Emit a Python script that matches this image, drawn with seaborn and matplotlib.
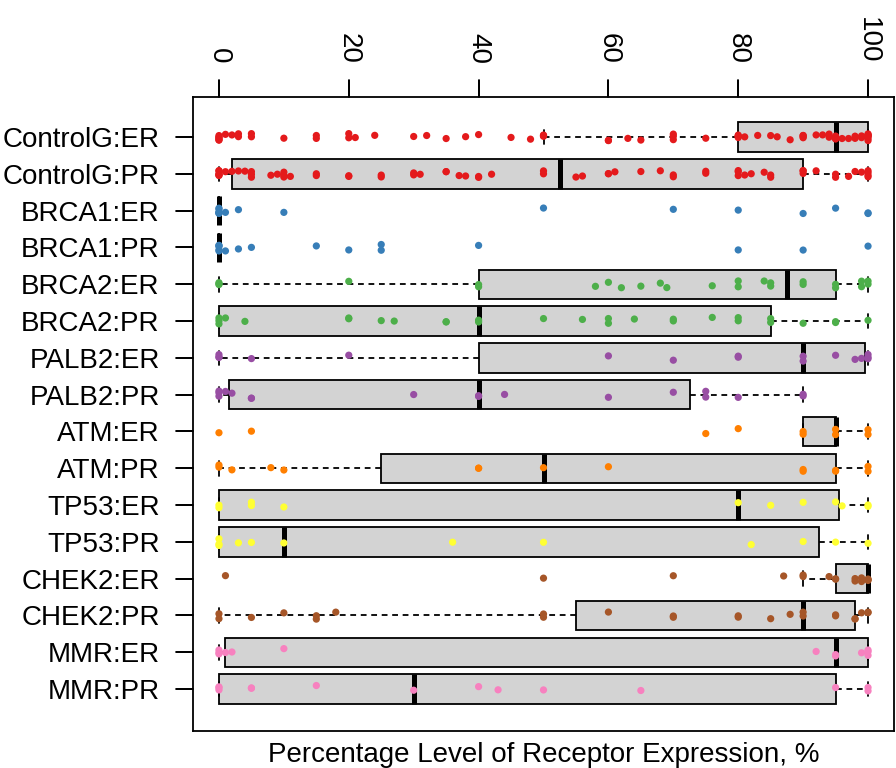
# %% Import libraries
import matplotlib
matplotlib.use('Agg')
import matplotlib.pyplot as plt
from matplotlib.lines import Line2D
import numpy as np
import pandas as pd
import seaborn as sns

# %% data
labels = ['ControlG:ER', 'ControlG:PR', 'BRCA1:ER', 'BRCA1:PR',
          'BRCA2:ER', 'BRCA2:PR', 'PALB2:ER', 'PALB2:PR',
          'ATM:ER', 'ATM:PR', 'TP53:ER', 'TP53:PR',
          'CHEK2:ER', 'CHEK2:PR', 'MMR:ER', 'MMR:PR']
genes = ['ControlG', 'BRCA1', 'BRCA2', 'PALB2', 'ATM', 'TP53', 'CHEK2', 'MMR']
xtick_vals = [0, 20, 40, 60, 80, 100]

# box statistics
whislo = [50, 0, 0, 0, 0, 0, 0, 0, 90, 0, 0, 0, 90, 0, 0, 0]
q1 = [80, 2, 0, 0, 40, 0, 40, 1.5, 90, 25, 0, 0, 95, 55, 1, 0]
med = [95, 52.5, 0, 0, 87.5, 40, 90, 40, 95, 50, 80, 10, 100, 90, 95, 30]
q3 = [100, 90, 0, 0, 95, 85, 99.5, 72.5, 95, 95, 95.5, 92.5, 100, 98, 100, 95]
whishi = [100, 100, 0, 0, 100, 100, 100, 90, 100, 100, 100, 100, 100, 100, 100, 100]

# individual observations (percent)
controlg_er = [0, 0, 0, 0, 0, 0, 1, 2, 3, 3, 5, 5, 10, 15, 15, 20, 20, 21, 24, 30, 32, 35,
               38, 40, 45, 48, 50, 50, 50, 60, 60, 63, 65, 70, 70, 70, 75, 80, 80, 80, 80,
               81, 83, 85, 86, 88, 90, 90, 90, 90, 92, 93, 94, 94, 95, 95, 95, 95, 96, 97,
               98, 98, 99, 99, 100, 100, 100, 100, 100, 100, 100]
controlg_pr = [0, 0, 0, 0, 0, 0, 1, 2, 3, 4, 5, 5, 5, 8, 9, 10, 10, 10, 11, 15, 15, 20, 20,
               25, 25, 30, 30, 31, 35, 35, 37, 38, 40, 40, 42, 50, 50, 55, 56, 60, 60, 61,
               65, 68, 70, 70, 75, 75, 80, 80, 80, 81, 82, 84, 85, 85, 90, 90, 90, 92, 95,
               95, 97, 98, 99, 100, 100, 100, 100]
brca1_er = [0, 0, 0, 0, 0, 0, 1, 3, 10, 50, 70, 80, 90, 95, 100, 100]
brca1_pr = [0, 0, 0, 0, 0, 1, 3, 5, 15, 20, 25, 25, 40, 80, 90, 100]
brca2_er = [0, 0, 0, 20, 40, 40, 58, 60, 62, 65, 68, 69, 76, 80, 80, 84, 85, 85, 90, 90,
            95, 95, 99, 99, 100, 100]
brca2_pr = [0, 0, 0, 1, 4, 20, 20, 25, 27, 35, 35, 40, 40, 50, 56, 60, 60, 64, 70, 70, 76,
            80, 80, 85, 85, 90, 95, 95, 100]
palb2_er = [0, 0, 0, 5, 20, 60, 70, 80, 80, 90, 90, 95, 98, 99, 100, 100, 100]
palb2_pr = [0, 0, 0, 1, 2, 5, 5, 30, 40, 40, 44, 60, 70, 75, 75, 80, 90, 90]
atm_er = [0, 5, 75, 80, 90, 90, 95, 95, 100, 100]
atm_pr = [0, 0, 2, 8, 10, 40, 40, 50, 60, 90, 90, 95, 95, 100, 100]
tp53_er = [0, 0, 5, 5, 10, 80, 85, 90, 95, 96, 100, 100]
tp53_pr = [0, 0, 0, 3, 5, 10, 36, 50, 82, 90, 95, 100]
chek2_er = [1, 50, 70, 87, 90, 90, 94, 95, 95, 98, 98, 99, 99, 100, 100, 100]
chek2_pr = [0, 0, 5, 10, 15, 15, 18, 50, 50, 60, 70, 70, 80, 80, 85, 88, 90, 90, 95, 95,
            98, 98, 99, 100, 100]
mmr_er = [0, 0, 0, 1, 2, 10, 92, 95, 95, 99, 100, 100, 100]
mmr_pr = [0, 0, 0, 5, 5, 15, 30, 40, 43, 50, 65, 95, 100, 100]

values = [controlg_er, controlg_pr, brca1_er, brca1_pr, brca2_er, brca2_pr,
          palb2_er, palb2_pr, atm_er, atm_pr, tp53_er, tp53_pr,
          chek2_er, chek2_pr, mmr_er, mmr_pr]

# %% long table for seaborn
rows = []
for lab, vals in zip(labels, values):
    for v in vals:
        rows.append({'group': lab, 'gene': lab.split(':')[0], 'value': v})
df = pd.DataFrame(rows)

# %% plot
sns.set_theme(style='ticks')
plt.rcParams['font.family'] = ['Liberation Sans', 'DejaVu Sans']
plt.rcParams['xtick.color'] = 'black'
plt.rcParams['ytick.color'] = 'black'
np.random.seed(3)

fig = plt.figure(figsize=(8.96, 7.68), dpi=100)
ax = fig.add_axes([193 / 896, 1 - 731 / 768, (894 - 193) / 896, (731 - 97) / 768])

stats = [{'label': l, 'whislo': a, 'q1': b, 'med': c, 'q3': d, 'whishi': e}
         for l, a, b, c, d, e in zip(labels, whislo, q1, med, q3, whishi)]
ax.bxp(stats, positions=np.arange(len(labels)), widths=0.8, capwidths=0.4,
       orientation='horizontal', showfliers=False, patch_artist=True,
       manage_ticks=False, zorder=1,
       boxprops=dict(facecolor='lightgray', edgecolor='black', linewidth=1.3),
       medianprops=dict(color='black', linewidth=3.6, solid_capstyle='butt'),
       whiskerprops=dict(color='black', linewidth=1.3, linestyle=(0, (3.2, 2.6))),
       capprops=dict(color='black', linewidth=1.3))

sns.stripplot(data=df, x='value', y='group', hue='gene', order=labels,
              hue_order=genes, palette=sns.color_palette('Set1', 8),
              jitter=0.1, size=5.2, linewidth=0, legend=False, ax=ax)
for c in ax.collections:
    c.set_zorder(3)

ax.set_xlim(-4, 104)
ax.set_ylim(16.14, -1.09)
ax.set_yticks(np.arange(len(labels)))
ax.set_yticklabels(labels, fontsize=20, color='black')
ax.set_xticks(xtick_vals)
ax.set_xticklabels([str(v) for v in xtick_vals], fontsize=20,
                   rotation=-90, color='black')
ax.xaxis.tick_top()
ax.xaxis.set_label_position('bottom')
ax.set_xlabel('Percentage Level of Receptor Expression, %', fontsize=20,
              labelpad=8, color='black')
ax.set_ylabel('')
ax.tick_params(axis='x', which='major', direction='out', length=12, width=1.3,
               color='black', pad=12, top=True, bottom=False,
               labeltop=True, labelbottom=False)
ax.tick_params(axis='y', which='major', direction='out', length=12, width=1.3,
               color='black', pad=12, left=True, right=False)
for s in ax.spines.values():
    s.set_color('black')
    s.set_linewidth(1.3)

# extra tick marks at figure level, positioned through the axes transforms
fig.canvas.draw()
to_fig = ax.transData + fig.transFigure.inverted()
y_top = ax.get_position().y1
x_left = ax.get_position().x0
tick_h = 17 / 768
tick_w = 17 / 896
for v in xtick_vals:
    fx, _ = to_fig.transform((v, 0))
    fig.add_artist(Line2D([fx, fx], [y_top, y_top + tick_h], color='black',
                          lw=1.3, transform=fig.transFigure, zorder=10))
for p in np.arange(len(labels)):
    _, fy = to_fig.transform((0, p))
    fig.add_artist(Line2D([x_left - tick_w, x_left], [fy, fy], color='black',
                          lw=1.3, transform=fig.transFigure, zorder=10))

fig.savefig('out.png', dpi=100)
